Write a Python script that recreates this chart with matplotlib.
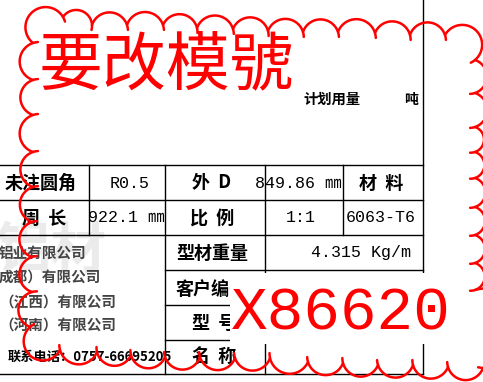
import numpy as np
import matplotlib
matplotlib.use('Agg')
import matplotlib.pyplot as plt
from matplotlib.patches import Rectangle

plt.rcParams['font.family'] = ['Noto Sans CJK SC', 'DejaVu Sans']

# table grid in pixel units (y goes down): (pos, start, end)
h_lines = [(165, 0, 423), (200, 0, 423), (235, 0, 423), (270, 165, 423),
           (305, 165, 423), (340, 165, 423), (374, 0, 423)]
v_lines = [(89, 165, 235), (165, 165, 374), (265, 165, 374),
           (343, 165, 235), (423, 0, 374)]

# cell labels
label_text = ['未注圆角', '周  长', '外  D', '比  例', '材  料', '型材重量', '客户编号', '型  号', '名  称']
label_x = [41, 44, 212, 212, 381, 212, 212, 214, 214]
label_y = [183, 218, 183, 218, 183, 253, 289, 323, 357]

# cell values
value_text = ['R0.5', '922.1 ㎜', '849.86 ㎜', '1:1', '6063-T6', '4.315 Kg/m']
value_x = [130, 126, 298, 301, 381, 361]
value_y = [183, 218, 183, 218, 218, 253]

# company block (cut at the left edge)
company_text = ['铝业有限公司', '成都）有限公司', '（江西）有限公司', '（河南）有限公司']
company_right = [86, 101, 116, 116]
company_y = [253, 278, 302, 326]
phone_text = '联系电话：0757-66695205'

# revision cloud cusps, clockwise
cloud_x = [33, 63, 92, 127, 163, 197, 233, 268, 303, 338, 375, 410, 445,
           475, 475, 475, 475, 475, 475, 475, 475, 475,
           483, 448, 413, 378, 343, 308, 270, 235, 200, 165, 131, 97, 60,
           30, 32, 32, 32, 33, 33, 33, 33]
cloud_y = [43, 17, 25, 25, 25, 28, 29, 31, 32, 32, 33, 35, 35,
           60, 93, 127, 152, 178, 207, 235, 263, 290,
           368, 367, 365, 365, 363, 362, 358, 358, 357, 357, 355, 352, 350,
           327, 292, 257, 222, 187, 152, 115, 80]
corner_idx = [0, 12, 21, 34]


def cloud_arc(p0, p1, ratio, tail_px=5, n=40):
    p0 = np.array(p0, float)
    p1 = np.array(p1, float)
    d = p1 - p0
    c = np.hypot(d[0], d[1])
    nrm = np.array([d[1], -d[0]]) / c
    s = ratio * c
    R = (c * c / 4 + s * s) / (2 * s)
    ctr = (p0 + p1) / 2 - nrm * (R - s)
    theta = np.arctan2(c / 2, R - s)
    a_top = np.arctan2(nrm[1], nrm[0])
    best = None
    for sign in (1, -1):
        a0 = a_top - sign * theta
        q = ctr + R * np.array([np.cos(a0), np.sin(a0)])
        dist = np.hypot(*(q - p0))
        if best is None or dist < best[0]:
            best = (dist, sign)
    sign = best[1]
    t = np.linspace(-theta, theta + tail_px / R, n)
    ang = a_top + sign * t
    return ctr[0] + R * np.cos(ang), ctr[1] + R * np.sin(ang)


fig = plt.figure(figsize=(4.83, 3.82), dpi=100)
ax = fig.add_axes([0, 0, 1, 1])
ax.set_xlim(0, 483)
ax.set_ylim(382, 0)
ax.axis('off')

# faint watermark behind the company block
wm = ax.text(-4, 252, '铝材', fontsize=40, fontweight='bold', color='#ebebeb',
             ha='left', va='center', zorder=0)
wm.set_clip_path(Rectangle((0, 236), 160, 40, transform=ax.transData))

for y, x0, x1 in h_lines:
    ax.plot([x0, x1], [y, y], color='black', lw=1.0, zorder=1)
for x, y0, y1 in v_lines:
    ax.plot([x, x], [y0, y1], color='black', lw=1.0, zorder=1)

for t, x, y in zip(label_text, label_x, label_y):
    ax.text(x, y, t, fontsize=13, fontweight='bold', ha='center', va='center', zorder=2)

for t, x, y in zip(value_text, value_x, value_y):
    ax.text(x, y, t, fontsize=12, family=['Liberation Mono', 'Noto Sans CJK SC'],
            ha='center', va='center', zorder=2)

for t, x, y in zip(company_text, company_right, company_y):
    ax.text(x, y, t, fontsize=10.5, fontweight='bold', color='#444444',
            ha='right', va='center', zorder=2)
ax.text(8, 357, phone_text, fontsize=9.5, fontweight='bold', ha='left', va='center', zorder=2)

ax.text(303, 100, '计划用量', fontsize=10.3, fontweight='bold', ha='left', va='center', zorder=2)
ax.text(411, 100, '吨', fontsize=10, fontweight='bold', ha='center', va='center', zorder=2)

# red markup
ax.text(39, 66, '要改模號', fontsize=46, fontweight='light', color='red',
        ha='left', va='center', zorder=4)
ax.add_patch(Rectangle((230, 273), 230, 71, facecolor='white', edgecolor='none', zorder=3))
ax.text(231, 330, 'X86620', fontsize=44, color='red', family='Liberation Mono',
        ha='left', va='baseline', zorder=4)

n = len(cloud_x)
for i in range(n):
    j = (i + 1) % n
    ratio = 0.6 if i in corner_idx else 0.36
    xs, ys = cloud_arc((cloud_x[i], cloud_y[i]), (cloud_x[j], cloud_y[j]), ratio)
    ax.plot(xs, ys, color='red', lw=1.8, solid_capstyle='round', zorder=5)

fig.savefig('out.png', dpi=100)
